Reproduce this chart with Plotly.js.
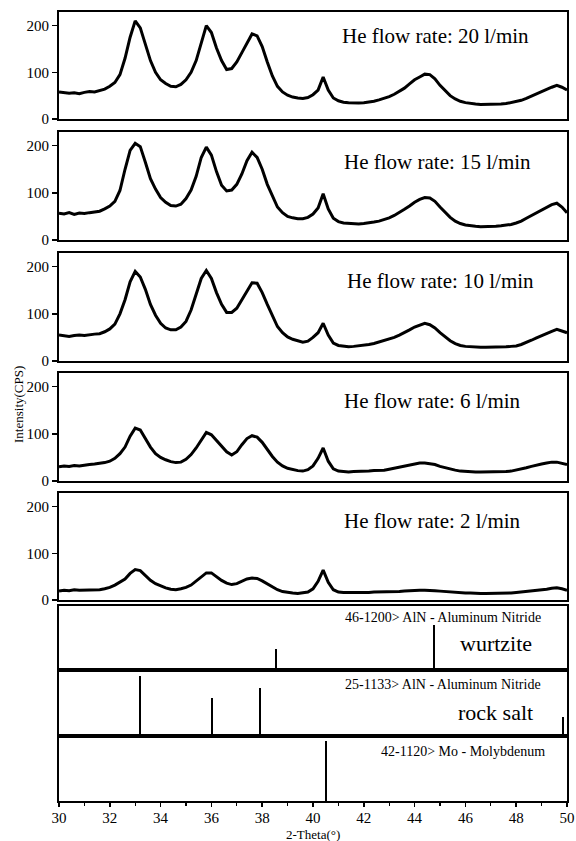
<!DOCTYPE html>
<html>
<head>
<meta charset="utf-8">
<script src="https://cdn.plot.ly/plotly-3.0.1.min.js"></script>
<style>html,body{margin:0;padding:0;background:#fff;}#chart{width:576px;height:841px;}</style>
</head>
<body>
<div id="chart"></div>
<script>
// 2-Theta grid (degrees)
const twoTheta = [30.0,30.2,30.4,30.6,30.8,31.0,31.2,31.4,31.6,31.8,32.0,32.2,32.4,32.6,32.8,33.0,33.2,33.4,33.6,33.8,34.0,34.2,34.4,34.6,34.8,35.0,35.2,35.4,35.6,35.8,36.0,36.2,36.4,36.6,36.8,37.0,37.2,37.4,37.6,37.8,38.0,38.2,38.4,38.6,38.8,39.0,39.2,39.4,39.6,39.8,40.0,40.2,40.4,40.6,40.8,41.0,41.2,41.4,41.6,41.8,42.0,42.2,42.4,42.6,42.8,43.0,43.2,43.4,43.6,43.8,44.0,44.2,44.4,44.6,44.8,45.0,45.2,45.4,45.6,45.8,46.0,46.2,46.4,46.6,46.8,47.0,47.2,47.4,47.6,47.8,48.0,48.2,48.4,48.6,48.8,49.0,49.2,49.4,49.6,49.8,50.0];

// Intensities (CPS) for each He flow rate
const he20 = [58,57,55,56,54,57,59,58,61,64,70,78,95,130,175,210,195,160,125,100,84,76,70,69,74,84,100,125,165,200,185,152,125,106,108,122,142,163,182,178,155,122,92,70,58,51,47,45,44,46,52,62,90,62,45,39,36,35,34,34,35,36,38,41,44,48,53,59,66,75,84,90,96,95,86,72,60,50,43,38,35,33,32,31,31,31,32,32,33,35,37,40,44,49,54,59,63,68,72,68,62];
const he15 = [57,55,58,54,57,56,58,60,61,66,72,82,105,150,190,205,198,165,130,108,90,80,73,72,76,88,106,135,175,197,180,145,116,104,106,118,140,168,186,175,150,118,92,70,58,50,47,45,45,48,55,68,98,66,46,39,36,35,34,34,35,36,38,40,43,47,52,58,65,72,80,86,90,89,82,70,58,48,40,35,32,30,29,28,28,28,29,30,31,33,36,40,46,52,58,64,70,75,78,70,58];
const he10 = [55,54,52,54,55,54,56,57,58,62,68,78,100,130,168,190,178,152,120,97,80,70,66,66,72,84,108,140,175,192,175,145,120,103,103,112,130,150,166,165,145,120,95,73,60,51,46,43,40,42,50,60,80,55,38,33,31,30,31,32,33,35,37,40,43,46,50,55,60,66,72,76,80,77,70,60,51,43,37,33,31,30,29,29,29,29,30,30,30,31,32,35,39,44,49,54,58,63,67,64,60];
const he6 = [30,32,31,33,32,34,35,36,37,39,42,48,58,72,95,112,108,90,72,58,50,45,41,39,40,46,56,70,88,103,98,86,74,62,55,62,77,90,96,93,82,66,52,40,32,27,24,22,21,24,32,48,70,42,26,21,20,19,20,20,21,21,22,22,23,25,27,29,32,34,36,38,38,37,35,31,28,25,23,21,20,19,19,19,19,19,19,20,20,21,23,25,28,31,34,36,38,40,40,38,35];
const he2 = [19,21,20,22,21,21,22,21,22,24,27,32,38,45,57,65,63,52,42,35,30,26,23,22,24,27,32,40,50,58,58,50,42,36,33,35,40,45,47,46,41,35,28,22,18,16,15,14,15,17,24,40,64,38,22,17,16,16,15,16,16,16,17,17,17,17,18,18,19,20,20,21,21,21,20,19,18,17,16,15,15,15,14,14,14,14,14,15,15,15,16,17,18,19,21,22,23,25,26,24,21];

const seriesLabels = ["He flow rate: 20 l/min","He flow rate: 15 l/min","He flow rate: 10 l/min","He flow rate: 6 l/min","He flow rate: 2 l/min"];

// Reference patterns (2-Theta, relative intensity)
const wurtziteX = [38.55, 44.78];
const wurtziteI = [30, 70];
const rockSaltX = [33.2, 36.03, 37.9, 49.84];
const rockSaltI = [93, 58, 75, 27];
const moX = [40.52];
const moI = [96];
const refLabels = ["46-1200> AlN - Aluminum Nitride","25-1133> AlN - Aluminum Nitride","42-1120> Mo - Molybdenum"];
const phaseLabels = ["wurtzite","rock salt"];

const xTicks = [30,32,34,36,38,40,42,44,46,48,50];
const yTicks = [0,100,200];
const xTitle = "2-Theta(°)";
const yTitle = "Intensity(CPS)";

// ---- layout helpers (pixel geometry) ----
const W = 576, H = 841;
const FONT = 'Liberation Serif';
const px = v => v / W;
const py = v => 1 - v / H;
const panels = [[12,119],[132,240],[253,361],[373,481],[493,600],[606,668],[672,734],[738,801]];
const xDom = [px(59), px(567)];

const series = [he20, he15, he10, he6, he2];
const data = [];
series.forEach((s, i) => {
  data.push({type:'scatter', mode:'lines', x: twoTheta, y: s,
    xaxis: 'x' + (i+1), yaxis: 'y' + (i+1),
    line: {color:'#000', width:3}, hoverinfo:'skip'});
});
const refs = [[wurtziteX, wurtziteI],[rockSaltX, rockSaltI],[moX, moI]];
refs.forEach((r, j) => {
  const k = 6 + j;
  data.push({type:'bar', x: r[0], y: r[1], width: 0.08,
    xaxis: 'x' + k, yaxis: 'y' + k,
    marker:{color:'#000', line:{width:0}}, hoverinfo:'skip'});
});

const layout = {
  width: W, height: H,
  margin: {l:0, r:0, t:0, b:0},
  paper_bgcolor:'#fff', plot_bgcolor:'#fff',
  showlegend:false,
  font:{family: FONT, color:'#000'},
  annotations: [],
  bargap: 0
};

for (let i = 0; i < 8; i++) {
  const k = i + 1;
  const xa = 'xaxis' + (k === 1 ? '' : k);
  const ya = 'yaxis' + (k === 1 ? '' : k);
  const dom = [py(panels[i][1]), py(panels[i][0])];
  const isBottom = (i === 7);
  layout[xa] = {
    domain: xDom, anchor: 'y' + k, range: [30, 50],
    showline: true, linecolor:'#000', linewidth: 2, mirror: true,
    showgrid: false, zeroline: false,
    showticklabels: isBottom,
    ticks: isBottom ? 'outside' : '', ticklen: 4, tickwidth: 1.5, tickcolor:'#000',
    tickvals: isBottom ? xTicks : [],
    ticktext: isBottom ? xTicks.map(String) : [],
    tickfont: {family: FONT, size: 15, color:'#000'},
    ticklabelstandoff: -2,
    fixedrange: true
  };
  if (isBottom) {
    layout[xa].minor = {ticks:'outside', ticklen:3, tickwidth:1.2, tickcolor:'#000', dtick:1, tick0:30};
  }
  if (i < 5) {
    layout[ya] = {
      domain: dom, anchor: 'x' + k, range: [0, 229],
      showline: true, linecolor:'#000', linewidth: 2, mirror: true,
      showgrid: false, zeroline: false,
      ticks: 'outside', ticklen: 5, tickwidth: 1.5, tickcolor:'#000',
      tickvals: yTicks, ticktext: yTicks.map(String),
      tickfont: {family: FONT, size: 15, color:'#000'},
      fixedrange: true
    };
  } else {
    layout[ya] = {
      domain: dom, anchor: 'x' + k, range: [0, 100],
      showline: true, linecolor:'#000', linewidth: 2, mirror: true,
      showgrid: false, zeroline: false, showticklabels: false, ticks: '',
      fixedrange: true
    };
  }
}

// Series labels
const seriesLabelPos = [[531,36],[533,162],[536,281],[523,401],[523,521]];
seriesLabels.forEach((t, i) => {
  layout.annotations.push({text: t, xref:'paper', yref:'paper',
    x: px(seriesLabelPos[i][0]), y: py(seriesLabelPos[i][1]),
    xanchor:'right', yanchor:'middle', showarrow:false,
    font:{family: FONT, size: 21, color:'#000'}});
});
// Reference labels
const refLabelPos = [[543,617],[543,684],[547,751]];
refLabels.forEach((t, i) => {
  layout.annotations.push({text: t, xref:'paper', yref:'paper',
    x: px(refLabelPos[i][0]), y: py(refLabelPos[i][1]),
    xanchor:'right', yanchor:'middle', showarrow:false,
    font:{family: FONT, size: 14, color:'#000'}});
});
const phaseLabelPos = [[534,643],[535,712]];
phaseLabels.forEach((t, i) => {
  layout.annotations.push({text: t, xref:'paper', yref:'paper',
    x: px(phaseLabelPos[i][0]), y: py(phaseLabelPos[i][1]),
    xanchor:'right', yanchor:'middle', showarrow:false,
    font:{family: FONT, size: 22, color:'#000'}});
});
// Axis titles
layout.annotations.push({text: xTitle, xref:'paper', yref:'paper',
  x: px(313), y: py(834), xanchor:'center', yanchor:'middle',
  showarrow:false, font:{family: FONT, size: 13, color:'#000'}});
layout.annotations.push({text: yTitle, xref:'paper', yref:'paper',
  x: px(18), y: py(405), xanchor:'center', yanchor:'middle', textangle:-90,
  showarrow:false, font:{family: FONT, size: 13, color:'#000'}});

Plotly.newPlot('chart', data, layout, {staticPlot:true, displayModeBar:false});
</script>
</body>
</html>
